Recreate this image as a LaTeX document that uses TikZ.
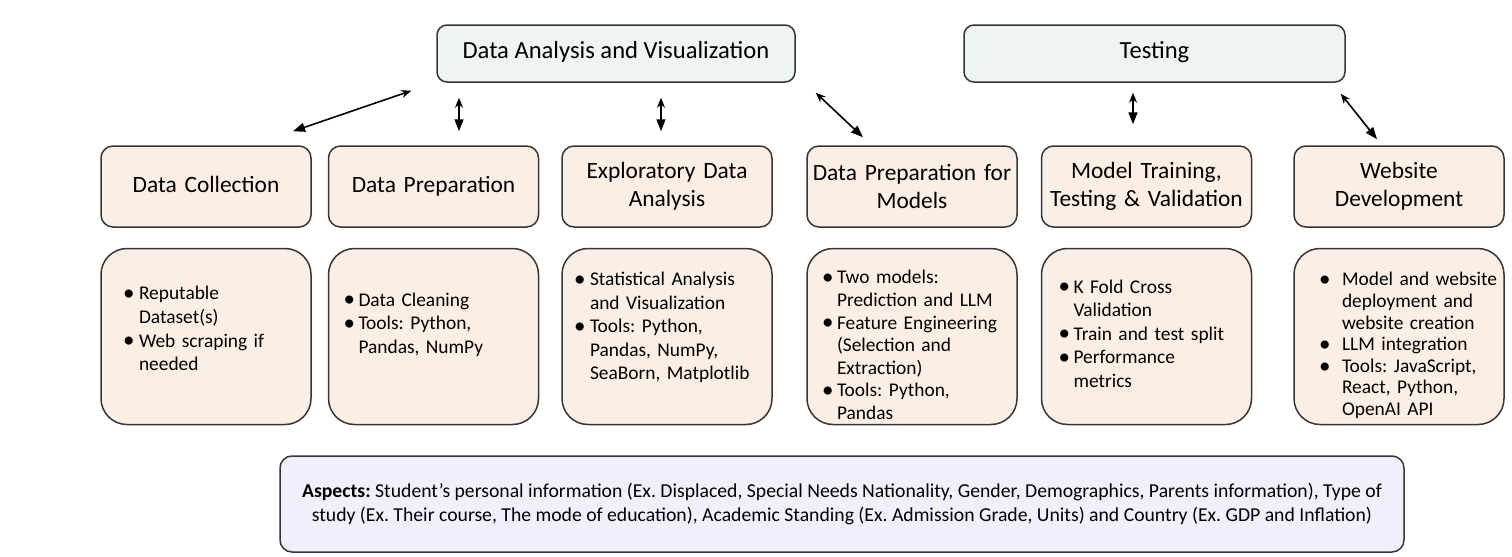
\documentclass[tikz,border=0pt]{standalone}
\usepackage{fontspec}
\setmainfont{Carlito}
\usetikzlibrary{arrows.meta, positioning}

\definecolor{stageFill}{HTML}{FBEEE4}
\definecolor{phaseFill}{HTML}{EEF4F3}
\definecolor{aspectFill}{HTML}{F0F0FC}
\definecolor{edgeGray}{HTML}{363636}

\frenchspacing

% bullet lists inside the detail boxes
\newcommand{\bulset}[2]{\leftskip=#1\def\bulgap{#2}}
\newcommand{\bul}{\par\hangindent=\bulgap\hangafter=1\noindent
    \makebox[\bulgap][l]{\raisebox{-0.08ex}{\fontsize{11.5}{11.5}\selectfont\textbullet}}}

\begin{document}
\begin{tikzpicture}[
    x=0.5pt, y=-0.5pt,
    phase_box/.style={rectangle, draw=edgeGray, line width=0.75pt, fill=phaseFill, rounded corners=5pt,
        minimum height=28.5pt, text height=0.72em, text depth=0.22em, font=\fontsize{12.3}{14.8}\selectfont},
    stage_box/.style={rectangle, draw=edgeGray, line width=0.75pt, fill=stageFill, rounded corners=6pt,
        minimum width=105pt, minimum height=40.5pt, inner sep=1pt, text width=103pt, align=center,
        font=\fontsize{11.7}{14}\selectfont},
    detail_box/.style={rectangle, draw=edgeGray, line width=0.75pt, fill=stageFill, rounded corners=13pt,
        minimum width=105pt, minimum height=88pt, inner sep=0pt, text width=105pt, align=left,
        font=\fontsize{9.7}{#1}\selectfont},
    detail_box/.default=11.8pt,
    aspect_box/.style={rectangle, draw=edgeGray, line width=0.75pt, fill=aspectFill, rounded corners=6pt,
        minimum width=562pt, minimum height=48pt, align=center, font=\fontsize{9.85}{12}\selectfont},
    link/.style={{Stealth[length=5pt,width=4pt]}-{Triangle[length=6pt,width=4.5pt]}, line width=0.8pt}
]
\useasboundingbox (0,0) rectangle (1512,557);

% Top phases
\node (dav_node) at (616,53.5) [phase_box, minimum width=179pt] {Data Analysis and Visualization};
\node (test_node) at (1154.5,53.5) [phase_box, minimum width=190.5pt] {Testing};

% Stages
\node (collect_node) at (206,186.5) [stage_box] {Data Collection\strut};
\node (prep_node) at (433.5,186.5) [stage_box] {Data Preparation\strut};
\node (eda_node) at (667,186.5) [stage_box] {Exploratory Data\\ Analysis};
\node (model_prep_node) at (912,186.5) [stage_box] {Data Preparation for\\ Models};
\node (train_node) at (1146.5,186.5) [stage_box] {Model Training,\\ Testing \& Validation};
\node (web_node) at (1399,186.5) [stage_box] {Website\\ Development};

% Details
\node (collect_info) [detail_box, below=10pt of collect_node] {\bulset{11pt}{8pt}%
    \bul Reputable\newline Dataset(s)
    \bul Web scraping if\newline needed\par\kern13pt};
\node (prep_info) [detail_box, below=10pt of prep_node] {\bulset{7.5pt}{7.5pt}%
    \bul Data Cleaning
    \bul Tools: Python,\newline Pandas, NumPy\par\kern17pt};
\node (eda_info) [detail_box, below=10pt of eda_node] {\bulset{6pt}{8pt}%
    \bul Statistical Analysis\newline and Visualization
    \bul Tools: Python,\newline Pandas, NumPy,\newline SeaBorn, Matplotlib\par\kern14pt};
\node (model_prep_info) [detail_box=11.3pt, below=10pt of model_prep_node] {\bulset{7.5pt}{7.5pt}%
    \bul Two models:\newline Prediction and LLM
    \bul Feature Engineering\newline (Selection and\newline Extraction)
    \bul Tools: Python,\newline Pandas\par\kern-4pt};
\node (train_info) [detail_box, below=10pt of train_node] {\bulset{8.5pt}{7.5pt}%
    \bul K Fold Cross\newline Validation
    \bul Train and test split
    \bul Performance\newline metrics\par\kern8pt};
\node (web_info) [detail_box=10.8pt, below=10pt of web_node] {\bulset{12.5pt}{11.5pt}%
    \bul Model and website\newline deployment and\newline website creation
    \bul LLM integration
    \bul Tools: JavaScript,\newline React, Python,\newline OpenAI API\par\kern-5pt};

% Aspects
\node (aspect_node) at (842,504) [aspect_box]
    {\textbf{Aspects:} Student’s personal information (Ex. Displaced, Special Needs Nationality, Gender, Demographics, Parents information), Type of\\ study (Ex. Their course, The mode of education), Academic Standing (Ex. Admission Grade, Units) and Country (Ex. GDP and Inflation)};

% Connections
\draw [link] ([xshift=-12.5pt,yshift=-4pt]dav_node.south west) -- ([xshift=43.5pt,yshift=7pt]collect_node.north);
\draw [link] ([xshift=-78.5pt,yshift=-7.5pt]dav_node.south) -- ([xshift=12.75pt,yshift=7pt]prep_node.north);
\draw [link] ([xshift=22.5pt,yshift=-7.5pt]dav_node.south) -- ([xshift=-3pt,yshift=7pt]eda_node.north);
\draw [link] ([xshift=10pt,yshift=-5pt]dav_node.south east) -- ([xshift=-24.5pt,yshift=4pt]model_prep_node.north);
\draw [link] ([xshift=-10.75pt,yshift=-5pt]test_node.south) -- ([xshift=-6.75pt,yshift=10.5pt]train_node.north);
\draw [link] ([xshift=-2.5pt,yshift=-5.5pt]test_node.south east) -- ([xshift=-11pt,yshift=3pt]web_node.north);

\end{tikzpicture}
\end{document}
